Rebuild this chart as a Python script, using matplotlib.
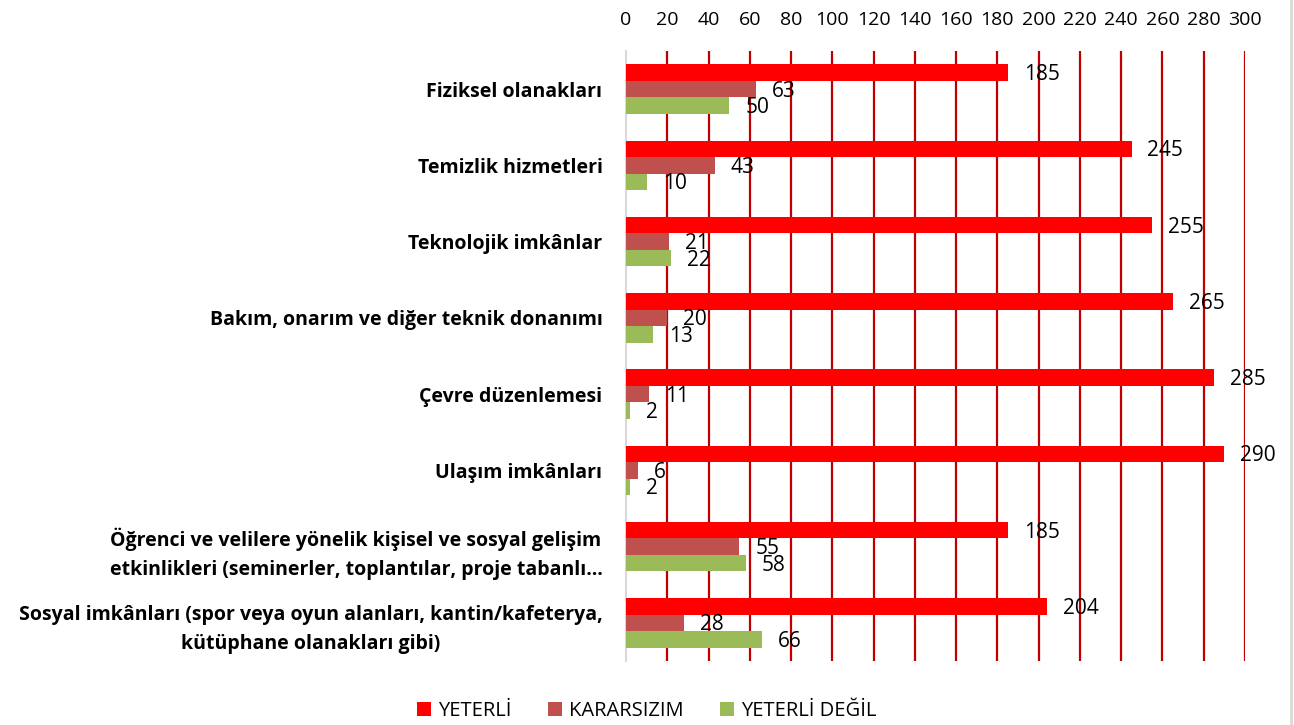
import matplotlib.pyplot as plt
from matplotlib.lines import Line2D
import numpy as np

plt.rcParams['font.family'] = ['Open Sans', 'DejaVu Sans']

categories = [
    "Fiziksel olanakları",
    "Temizlik hizmetleri",
    "Teknolojik imkânlar",
    "Bakım, onarım ve diğer teknik donanımı",
    "Çevre düzenlemesi",
    "Ulaşım imkânları",
    "Öğrenci ve velilere yönelik kişisel ve sosyal gelişim\netkinlikleri (seminerler, toplantılar, proje tabanlı…",
    "Sosyal imkânları (spor veya oyun alanları, kantin/kafeterya,\nkütüphane olanakları gibi)",
]
yeterli = [185, 245, 255, 265, 285, 290, 185, 204]
kararsizim = [63, 43, 21, 20, 11, 6, 55, 28]
yeterli_degil = [50, 10, 22, 13, 2, 2, 58, 66]

series = [
    ("YETERLİ", yeterli, "#FF0000"),
    ("KARARSIZIM", kararsizim, "#C0504D"),
    ("YETERLİ DEĞİL", yeterli_degil, "#9BBB59"),
]

fig = plt.figure(figsize=(12.94, 7.25), dpi=100)
ax = fig.add_axes([626 / 1294, 1 - 661 / 725, 619 / 1294, 610 / 725])

y = np.arange(len(categories))
h = 0.216
for i, (name, vals, color) in enumerate(series):
    pos = y + (i - 1) * h
    ax.barh(pos, vals, height=h, color=color, label=name, zorder=3)
    for p, v in zip(pos, vals):
        ax.annotate(str(v), (v, p), xytext=(11.5, -1.5), textcoords='offset points',
                    ha='left', va='center', fontsize=15, color='#000000', zorder=4)

ax.set_xlim(0, 300)
ax.set_ylim(len(categories) - 0.5, -0.5)
ax.set_xticks(np.arange(0, 301, 20))
ax.xaxis.tick_top()
ax.tick_params(axis='x', length=0, pad=16, labelsize=14)
ax.set_yticks(y)
ax.set_yticklabels(categories, fontweight='bold', fontsize=14, multialignment='center',
                   linespacing=1.6)
ax.tick_params(axis='y', length=0, pad=17)

for x in np.arange(20, 301, 20):
    ax.axvline(x, color='#C00000', lw=1.6, zorder=1)

for s in ['top', 'right', 'bottom']:
    ax.spines[s].set_visible(False)
ax.spines['left'].set_color('#D9D9D9')
ax.spines['left'].set_linewidth(1.5)

fig.legend(loc='lower center', bbox_to_anchor=(0.5, -0.02), ncol=3, frameon=False,
           fontsize=14.5, handlelength=0.7, handleheight=0.7, columnspacing=1.8,
           handletextpad=0.35)

fig.add_artist(Line2D([1291 / 1294, 1291 / 1294], [0, 1], color='#D9D9D9', lw=2,
                      transform=fig.transFigure))

fig.savefig('out.png', dpi=100)
